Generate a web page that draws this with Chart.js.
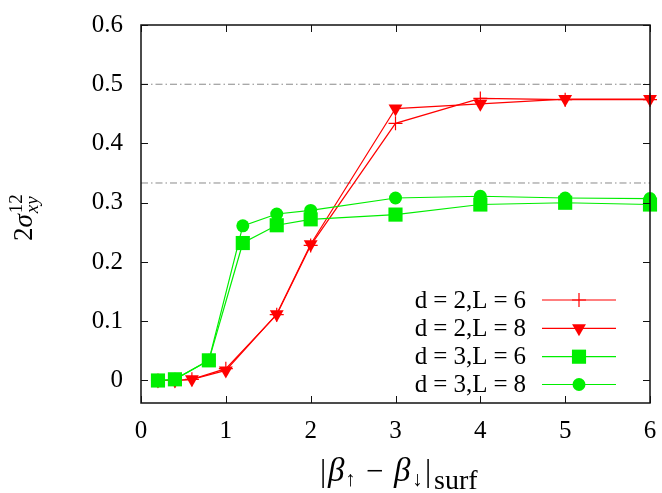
<!DOCTYPE html>
<html>
<head>
<meta charset="utf-8">
<script src="https://cdn.jsdelivr.net/npm/chart.js@4.4.0/dist/chart.umd.min.js"></script>
<style>body{margin:0;background:#fff}</style>
</head>
<body>
<canvas id="c" width="662" height="493"></canvas>
<script>
// data
const xRed = [0.2, 0.4, 0.6, 1.0, 1.6, 2, 3, 4, 5, 6];
const d2L6 = [0, 0, 0.002, 0.020, 0.111, 0.228, 0.434, 0.476, 0.474, 0.474];
const d2L8 = [0, 0, 0.002, 0.017, 0.112, 0.230, 0.459, 0.467, 0.475, 0.475];
const xGreen = [0.2, 0.4, 0.8, 1.2, 1.6, 2, 3, 4, 5, 6];
const d3L6 = [0, 0.002, 0.034, 0.232, 0.262, 0.272, 0.280, 0.297, 0.300, 0.297];
const d3L8 = [0, 0.002, 0.034, 0.261, 0.281, 0.287, 0.308, 0.311, 0.308, 0.307];
const refLevels = [0.5, 1 / 3];
const seriesLabels = ['d=2,L=6', 'd=2,L=8', 'd=3,L=6', 'd=3,L=8'];

const SERIF = '"Liberation Serif", "DejaVu Serif", serif';
const RED = '#ff0000';
const GREEN = '#00ee00';

const pts = (xs, ys) => xs.map((x, i) => ({ x: x, y: ys[i] }));

function drawRuns(ctx, runs, x, y, rotate) {
    // draws text pieces one after another: {t, size, italic, dy, at}
    ctx.save();
    ctx.translate(x, y);
    if (rotate) ctx.rotate(-Math.PI / 2);
    ctx.fillStyle = '#000';
    ctx.textBaseline = 'alphabetic';
    let u = 0;
    runs.forEach(r => {
        ctx.font = (r.italic ? 'italic ' : '') + r.size + 'px ' + SERIF;
        if (r.at != null) u = r.at;
        ctx.fillText(r.t, u, r.dy || 0);
        u += ctx.measureText(r.t).width + (r.gap || 0);
        if (r.mark) r.mark.u = u;
    });
    ctx.restore();
}

// legend text with math-style space around "="
function legendText(ctx, label, right, y) {
    const parts = label.split('=');
    const gap = 6;
    ctx.font = '25px ' + SERIF;
    let w = 0;
    parts.forEach((p, i) => { w += ctx.measureText(p).width; if (i < parts.length - 1) w += ctx.measureText('=').width + 2 * gap; });
    let u = right - w;
    ctx.textAlign = 'left';
    parts.forEach((p, i) => {
        ctx.fillText(p, u, y);
        u += ctx.measureText(p).width;
        if (i < parts.length - 1) {
            u += gap;
            ctx.fillText('=', u, y);
            u += ctx.measureText('=').width + gap;
        }
    });
}

const framePlugin = {
    id: 'framePlugin',
    afterDraw(chart) {
        const { ctx, chartArea: a, scales: { x, y } } = chart;
        ctx.save();
        // border box
        ctx.strokeStyle = '#111';
        ctx.lineWidth = 1.5;
        ctx.strokeRect(a.left, a.top, a.right - a.left, a.bottom - a.top);
        // inward ticks on all four sides
        ctx.lineWidth = 1;
        ctx.beginPath();
        x.ticks.forEach(t => {
            const p = Math.round(x.getPixelForValue(t.value)) + 0.5;
            ctx.moveTo(p, a.bottom); ctx.lineTo(p, a.bottom - 7);
            ctx.moveTo(p, a.top); ctx.lineTo(p, a.top + 7);
        });
        y.ticks.forEach(t => {
            const p = Math.round(y.getPixelForValue(t.value)) + 0.5;
            ctx.moveTo(a.left, p); ctx.lineTo(a.left + 7, p);
            ctx.moveTo(a.right, p); ctx.lineTo(a.right - 7, p);
        });
        ctx.stroke();

        // legend, lower right, text left of sample
        const rowY = [300, 328.3, 356.7, 384.5];
        chart.data.datasets.filter(d => d.label).forEach((d, i) => {
            const yy = rowY[i];
            ctx.fillStyle = '#000';
            ctx.textBaseline = 'middle';
            legendText(ctx, d.label, 526, yy + 1);
            ctx.strokeStyle = d.borderColor;
            ctx.lineWidth = d.borderWidth;
            ctx.beginPath();
            ctx.moveTo(542, yy); ctx.lineTo(616, yy);
            ctx.stroke();
            ctx.fillStyle = d.backgroundColor;
            ctx.lineWidth = d.pointBorderWidth;
            Chart.helpers.drawPoint(ctx, {
                pointStyle: d.pointStyle,
                rotation: d.pointRotation || 0,
                radius: d.pointRadius,
                borderWidth: d.pointBorderWidth
            }, 579, yy);
        });
        ctx.restore();

        // y title: 2 sigma ^12 _xy (rotated)
        const m = {};
        drawRuns(ctx, [
            { t: '2', size: 27 },
            { t: 'σ', size: 27, italic: true, mark: m }
        ], 32, 241, true);
        drawRuns(ctx, [{ t: '12', size: 19, at: m.u + 1, dy: -10 }], 32, 241, true);
        drawRuns(ctx, [{ t: 'xy', size: 19, italic: true, at: m.u + 1, dy: 6 }], 32, 241, true);

        // x title: |beta_up - beta_down|_surf
        drawRuns(ctx, [
            { t: '|', size: 31, at: -2 },
            { t: 'β', size: 33, italic: true, at: 6 },
            { t: '↑', size: 21, dy: 5, at: 23 },
            { t: '−', size: 31, at: 44 },
            { t: 'β', size: 33, italic: true, at: 72 },
            { t: '↓', size: 21, dy: 5, at: 90 },
            { t: '|', size: 31, at: 103 },
            { t: 'surf', size: 28, dy: 8, at: 112 }
        ], 322, 481, false);
    }
};

const datasets = [
    {
        label: seriesLabels[0], data: pts(xRed, d2L6),
        borderColor: RED, backgroundColor: RED, borderWidth: 1.2,
        pointStyle: 'cross', pointRadius: 7, pointBorderWidth: 1.2, order: 2
    },
    {
        label: seriesLabels[1], data: pts(xRed, d2L8),
        borderColor: RED, backgroundColor: RED, borderWidth: 1.2,
        pointStyle: 'triangle', pointRotation: 180, pointRadius: 8, pointBorderWidth: 0, order: 2
    },
    {
        label: seriesLabels[2], data: pts(xGreen, d3L6),
        borderColor: GREEN, backgroundColor: GREEN, borderWidth: 1.2,
        pointStyle: 'rect', pointRadius: 10, pointBorderWidth: 0, order: 1
    },
    {
        label: seriesLabels[3], data: pts(xGreen, d3L8),
        borderColor: GREEN, backgroundColor: GREEN, borderWidth: 1.2,
        pointStyle: 'circle', pointRadius: 6.5, pointBorderWidth: 0, order: 1
    }
];
refLevels.forEach(v => datasets.push({
    data: [{ x: 0, y: v }, { x: 6, y: v }],
    borderColor: '#8a8a8a', borderWidth: 1, borderDash: [7, 3, 1.5, 3],
    pointRadius: 0, order: 5
}));
datasets.forEach(d => { if (d.label) d.clip = false; });

new Chart(document.getElementById('c'), {
    type: 'line',
    data: { datasets: datasets },
    options: {
        responsive: false,
        animation: false,
        layout: { padding: { top: 13, right: 12, left: 0, bottom: 0 } },
        elements: { line: { tension: 0 } },
        plugins: { legend: { display: false }, tooltip: { enabled: false } },
        scales: {
            x: {
                type: 'linear', min: 0, max: 6,
                grid: { display: false }, border: { display: false },
                ticks: { stepSize: 1, padding: 5, color: '#000', font: { family: SERIF, size: 25 } },
                afterFit: s => { s.height = 90; }
            },
            y: {
                type: 'linear', min: -0.038, max: 0.6,
                grid: { display: false }, border: { display: false },
                ticks: { stepSize: 0.1, includeBounds: false, padding: 10, color: '#000', font: { family: SERIF, size: 25 } },
                afterFit: s => { s.width = 141; }
            }
        }
    },
    plugins: [framePlugin]
});
</script>
</body>
</html>
